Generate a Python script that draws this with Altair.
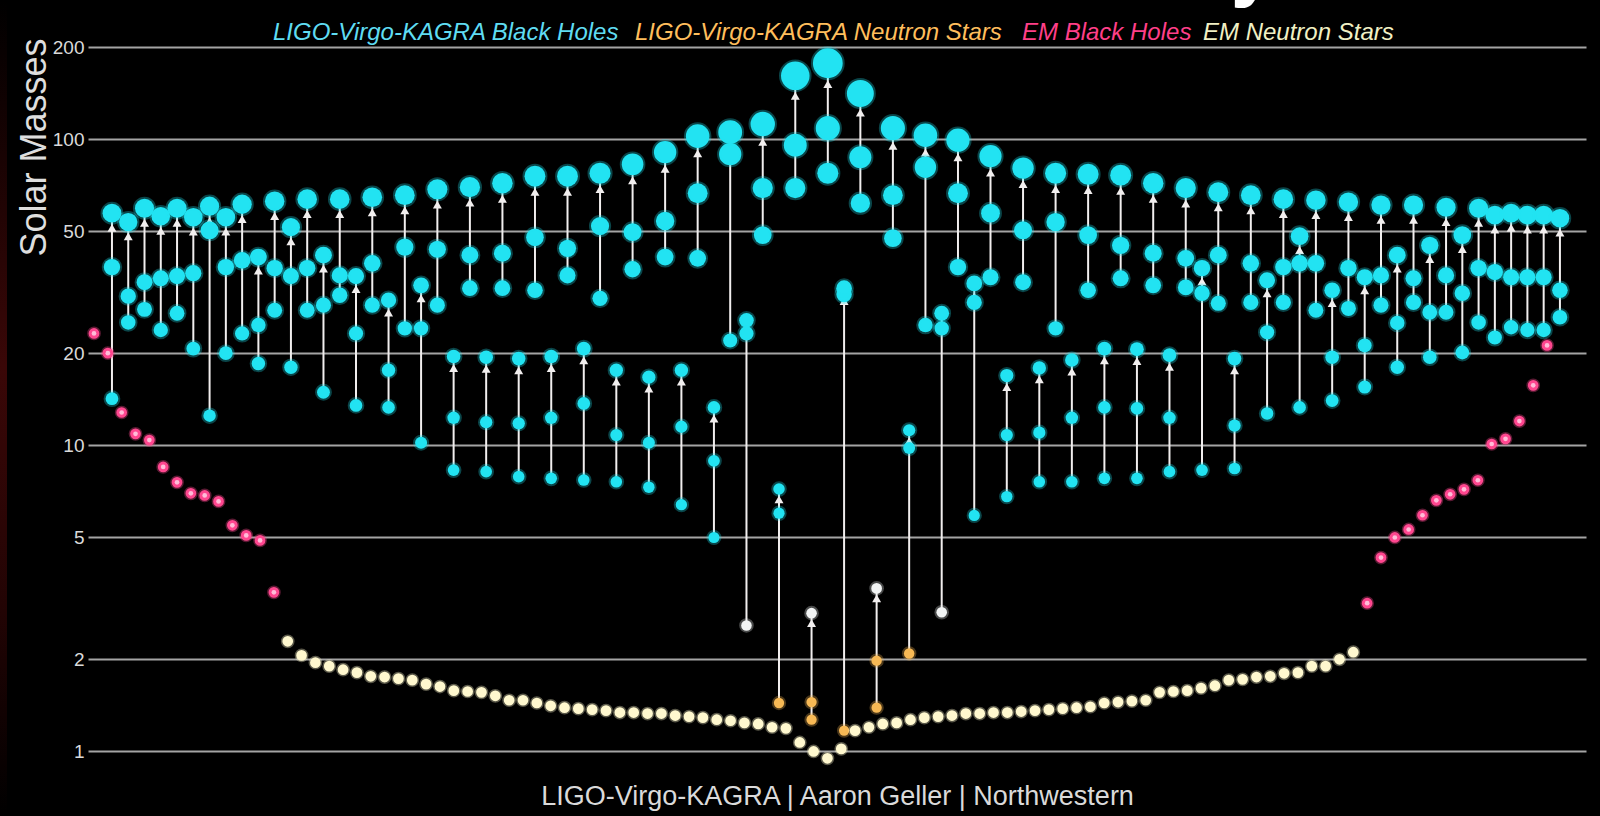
import math

import altair as alt
import pandas as pd

# ---- LIGO-Virgo-KAGRA mergers: remnant, primary and secondary masses (solar masses)
lvk_final = [57.3, 53.6, 59.5, 56.0, 59.5, 55.6, 60.4, 55.6, 61.3, 41.2,
             62.7, 51.6, 63.7, 41.8, 63.7, 35.7, 64.6, 29.8, 65.6, 33.3,
             68.6, 19.5, 69.7, 19.4, 71.8, 19.2, 75.7, 19.5, 75.7, 20.7,
             77.4, 17.6, 82.8, 16.7, 90.7, 17.6, 102.3, 13.3, 105.4, 25.6,
             112.0, 7.2, 161.0, 2.83, 177.0, 32.6, 141.0, 3.41, 108.6, 11.2,
             103.0, 27.0, 99.2, 33.8, 88.0, 16.9, 80.4, 17.9, 77.4, 19.0,
             76.8, 20.7, 76.3, 20.6, 71.8, 19.7, 69.2, 37.9, 67.1, 19.2,
             65.6, 34.6, 63.7, 48.2, 63.2, 32.1, 62.3, 35.4, 60.9, 41.8,
             60.9, 45.0, 59.9, 48.6, 59.5, 56.5, 57.3, 56.5, 56.5, 55.2]
lvk_primary = [38.2, 30.7, 34.1, 35.1, 35.7, 36.5, 50.4, 38.2, 40.2, 24.7,
               37.9, 35.7, 37.9, 28.7, 35.9, 23.2, 39.3, 17.6, 44.4, 24.1,
               43.7, 12.3, 41.8, 11.9, 42.4, 11.8, 47.8, 12.3, 44.0, 13.7,
               52.0, 10.8, 49.7, 10.2, 54.0, 11.5, 66.6, 8.9, 89.3, 23.2,
               69.2, 6.0, 95.6, 1.45, 108.6, 31.1, 87.3, 1.98, 65.6, 9.8,
               81.0, 24.1, 66.6, 29.3, 57.3, 10.8, 50.4, 11.0, 53.6, 12.3,
               48.6, 13.3, 45.0, 13.2, 42.4, 12.3, 40.8, 31.4, 41.8, 11.6,
               39.3, 23.4, 38.2, 39.3, 39.3, 19.4, 37.9, 21.2, 35.9, 25.1,
               35.1, 27.2, 35.9, 31.4, 37.9, 36.8, 35.4, 35.4, 35.4, 32.1]
lvk_secondary = [14.2, 25.2, 27.8, 23.8, 27.0, 20.7, 12.5, 20.0, 23.2, 18.5,
                 27.6, 18.0, 27.6, 14.9, 30.9, 13.5, 28.7, 13.3, 24.1, 10.2,
                 28.7, 8.3, 32.6, 8.2, 32.6, 7.9, 32.1, 7.8, 35.9, 7.7,
                 30.2, 7.6, 37.6, 7.3, 41.2, 6.4, 40.8, 5.0, 22.0, 2.58,
                 48.6, 1.44, 69.2, 1.27, 77.4, 1.17, 61.8, 1.39, 47.5, 2.09,
                 24.7, 2.85, 38.2, 5.9, 35.4, 6.8, 34.1, 7.6, 24.1, 7.6,
                 32.1, 7.8, 35.1, 7.8, 33.3, 8.2, 32.8, 8.3, 29.1, 8.4,
                 29.3, 12.7, 29.3, 13.3, 27.6, 14.0, 28.0, 15.5, 28.7, 18.0,
                 29.3, 19.4, 27.2, 20.1, 25.2, 22.5, 24.3, 23.8, 23.8, 26.2]

# ---- electromagnetically observed compact objects (solar masses)
em_bh_left = [23.2, 20.0, 12.8, 10.9, 10.4, 8.5, 7.57, 6.97, 6.86, 6.56,
              5.48, 5.08, 4.89, 3.31]
em_ns = [2.29, 2.06, 1.95, 1.90, 1.85, 1.81, 1.76, 1.75, 1.73, 1.71,
         1.66, 1.63, 1.58, 1.57, 1.56, 1.52, 1.47, 1.47, 1.44, 1.41,
         1.39, 1.38, 1.37, 1.36, 1.34, 1.34, 1.33, 1.33, 1.31, 1.30,
         1.29, 1.27, 1.26, 1.24, 1.23, 1.20, 1.19, 1.07, 1.00, 0.95,
         1.02, 1.17, 1.20, 1.23, 1.24, 1.27, 1.29, 1.30, 1.31, 1.33,
         1.33, 1.34, 1.34, 1.35, 1.36, 1.37, 1.38, 1.39, 1.40, 1.44,
         1.45, 1.46, 1.47, 1.56, 1.57, 1.58, 1.61, 1.64, 1.71, 1.72,
         1.75, 1.76, 1.80, 1.81, 1.90, 1.90, 2.00, 2.11]
em_bh_right = [3.05, 4.30, 5.00, 5.31, 5.91, 6.61, 6.92, 7.18, 7.69, 10.1,
               10.5, 12.0, 15.7, 21.2]

y_ticks = [1, 2, 5, 10, 20, 50, 100, 200]

legend_labels = ["LIGO-Virgo-KAGRA Black Holes", "LIGO-Virgo-KAGRA Neutron Stars",
                 "EM Black Holes", "EM Neutron Stars"]
legend_colors = ["#5fdcf2", "#ffbe5c", "#ff3f88", "#f1f0c4"]

# ---- layout
W, H = 1498, 723
PAD = {"left": 88, "top": 47, "right": 14, "bottom": 46}
Y_DOMAIN = [0.87, 200]
PX_PER_DECADE = H / math.log10(Y_DOMAIN[1] / Y_DOMAIN[0])
SIZE_DOMAIN = [0, 180]
SIZE_RANGE = [100, 900]
FONT = "Liberation Sans, Arial, Helvetica, sans-serif"

KINDS = ["bh", "ns", "gap", "em_bh", "em_ns"]
KIND_COLORS = ["#22e3f2", "#f7b955", "#f2f4f4", "#ff4790", "#fff8cf"]
LINE_COLOR = "#f1eeee"


def kind_of(mass):
    if mass < 2.2:
        return "ns"
    if mass < 4.5:
        return "gap"
    return "bh"


def radius_of(mass):
    area = SIZE_RANGE[0] + (SIZE_RANGE[1] - SIZE_RANGE[0]) * mass / SIZE_DOMAIN[1]
    return math.sqrt(area / math.pi)


# events spread evenly along the strip, one population at a time
n = len(lvk_final)
lvk_pos = [0.016 + i * (0.9826 - 0.016) / (n - 1) for i in range(n)]
em_mass = em_bh_left + em_ns + em_bh_right
em_kind = (["em_bh"] * len(em_bh_left) + ["em_ns"] * len(em_ns)
           + ["em_bh"] * len(em_bh_right))
m = len(em_mass)
em_pos = [0.004 + k * (0.974 - 0.004) / (m - 1) for k in range(m)]

events = pd.DataFrame({
    "pos": lvk_pos,
    "final": lvk_final,
    "m1": lvk_primary,
    "m2": lvk_secondary,
})
# arrowhead sits just under the remnant's circle
events["head"] = [f * 10 ** (-(radius_of(f) + 4) / PX_PER_DECADE) for f in lvk_final]

rows = []
for p, f, a, b in zip(lvk_pos, lvk_final, lvk_primary, lvk_secondary):
    for mass in (b, a, f):
        rows.append({"pos": p, "mass": mass, "kind": kind_of(mass)})
lvk_points = pd.DataFrame(rows)

em_points = pd.DataFrame({"pos": em_pos, "mass": em_mass, "kind": em_kind})

x_scale = alt.Scale(domain=[0, 1], nice=False, zero=False)
y_scale = alt.Scale(type="log", domain=Y_DOMAIN, nice=False)
x_axis = alt.Axis(labels=False, ticks=False, domain=False, grid=False,
                  title="LIGO-Virgo-KAGRA | Aaron Geller | Northwestern",
                  titleFont=FONT, titleFontSize=27, titleFontWeight="normal",
                  titleColor="#dadada", titlePadding=13)
y_axis = alt.Axis(values=y_ticks, grid=True, gridColor="#a4a4a4", gridWidth=2,
                  domain=False, ticks=False, labelColor="#dadada", labelFont=FONT,
                  labelFontSize=19, labelPadding=4,
                  title="Solar Masses", titleFont=FONT, titleFontSize=36,
                  titleFontWeight="normal", titleColor="#dedede", titleAngle=270,
                  titleAlign="center", titleBaseline="middle", titleX=-54, titleY=100)


def X():
    return alt.X("pos:Q", scale=x_scale, axis=x_axis)


def Y(field):
    return alt.Y(f"{field}:Q", scale=y_scale, axis=y_axis)


color_enc = alt.Color("kind:N", scale=alt.Scale(domain=KINDS, range=KIND_COLORS), legend=None)
stroke_enc = alt.Stroke("kind:N", scale=alt.Scale(domain=KINDS, range=KIND_COLORS), legend=None)

# faint red glow along the left edge of the frame
edge = alt.Chart(pd.DataFrame({"e": [0]})).mark_rect(
    color=alt.Gradient(gradient="linear", x1=0, y1=0, x2=0, y2=1,
                       stops=[alt.GradientStop(offset=0, color="#000000"),
                              alt.GradientStop(offset=0.45, color="#3a0707"),
                              alt.GradientStop(offset=0.75, color="#220404"),
                              alt.GradientStop(offset=1, color="#000000")])
).encode(x=alt.value(-PAD["left"]), x2=alt.value(-PAD["left"] + 7),
         y=alt.value(-PAD["top"]), y2=alt.value(H + PAD["bottom"]))

stems = alt.Chart(events).mark_rule(color=LINE_COLOR, strokeWidth=2).encode(
    x=X(), y=Y("m2"), y2="final:Q")

heads = alt.Chart(events).mark_point(shape="triangle-up", filled=True, color=LINE_COLOR,
                                     size=80, opacity=1).encode(x=X(), y=Y("head"))

lvk_dots = alt.Chart(lvk_points).mark_circle(opacity=1, strokeWidth=4, strokeOpacity=0.3).encode(
    x=X(), y=Y("mass"),
    size=alt.Size("mass:Q", scale=alt.Scale(domain=SIZE_DOMAIN, range=SIZE_RANGE, zero=False),
                  legend=None),
    color=color_enc, stroke=stroke_enc)

em_dots = alt.Chart(em_points).mark_circle(size=115, opacity=1, strokeWidth=3,
                                           strokeOpacity=0.35).encode(
    x=X(), y=Y("mass"), color=color_enc, stroke=stroke_enc)

em_cores = alt.Chart(em_points).transform_filter(alt.datum.kind == "em_bh").mark_circle(
    size=22, color="#ffc3dc", opacity=0.95).encode(x=X(), y=Y("mass"))

legend_left = [273, 635, 1022, 1203]
legend_layers = [
    alt.Chart(pd.DataFrame({"label": [lab]})).mark_text(
        align="left", baseline="middle", font=FONT, fontSize=24, fontStyle="italic",
        color=col).encode(text="label:N", x=alt.value(lx - PAD["left"]),
                          y=alt.value(33 - PAD["top"]))
    for lab, col, lx in zip(legend_labels, legend_colors, legend_left)
]

# headline sits above the frame; only the tail of its "y" reaches into view
headline = alt.Chart(pd.DataFrame({"t": ["Masses in the Stellar Graveyard"]})).mark_text(
    align="center", baseline="alphabetic", font=FONT, fontSize=80, fontWeight="bold",
    color="#ffffff").encode(text="t:N", x=alt.value(795 - PAD["left"]),
                            y=alt.value(-9 - PAD["top"]))

chart = alt.layer(edge, stems, heads, lvk_dots, em_dots, em_cores, *legend_layers,
                  headline).properties(
    width=W, height=H,
    autosize=alt.AutoSizeParams(type="none"),
    padding=PAD,
).configure(background="#000000").configure_view(stroke=None)

chart.save("out.html", embed_options={"renderer": "svg", "actions": False})
